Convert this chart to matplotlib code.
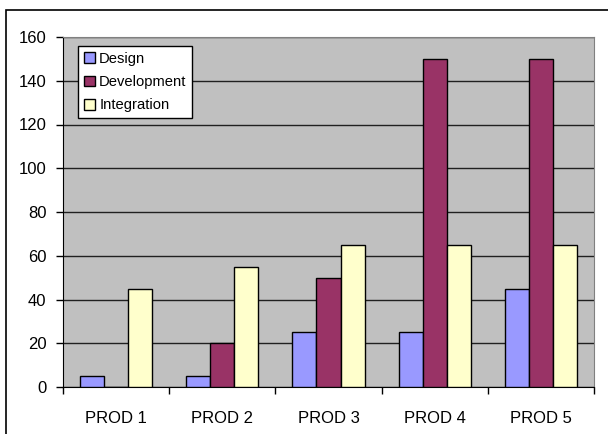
import numpy as np
import matplotlib
matplotlib.use("Agg")
from matplotlib import pyplot as plt
from matplotlib.patches import Rectangle

""" Chart data """
products = ["PROD 1", "PROD 2", "PROD 3", "PROD 4", "PROD 5"]
design = [5, 5, 25, 25, 45]
development = [0, 20, 50, 150, 150]
integration = [45, 55, 65, 65, 65]

series_names = ["Design", "Development", "Integration"]
series_colors = ["#9999FF", "#993366", "#FFFFCC"]

plt.rcParams['font.family'] = ['Liberation Sans', 'DejaVu Sans']

fig = plt.figure(figsize=(6.08, 4.34), dpi=100)
W, H = 608, 434
ax = fig.add_axes([63 / W, 1 - 387 / H, (594 - 63) / W, (387 - 37) / H])

""" outer chart border """
fig.patches.append(Rectangle((6 / W, -0.05), 1.2, 1 - 10 / H + 0.05,
                             transform=fig.transFigure, fill=False,
                             edgecolor="black", linewidth=1.2, clip_on=False))

ax.set_facecolor("#C0C0C0")
for s in ["top", "right"]:
    ax.spines[s].set_color("#808080")
for s in ["left", "bottom"]:
    ax.spines[s].set_color("black")

x = np.arange(len(products))
w = 0.226
for k, (vals, name, col) in enumerate(zip([design, development, integration],
                                          series_names, series_colors)):
    ax.bar(x + (k - 1) * w, vals, width=w, color=col, edgecolor="black",
           linewidth=1.0, label=name, zorder=3)

ax.set_xlim(-0.5, len(products) - 0.5)
ax.set_ylim(0, 160)
ax.set_yticks(np.arange(0, 161, 20))
ax.yaxis.grid(True, color="#202020", linewidth=1, zorder=0)
ax.set_axisbelow(True)

ax.set_xticks(x)
ax.set_xticklabels(products)
ax.set_xticks(np.arange(-0.5, len(products), 1), minor=True)
ax.tick_params(axis="x", which="major", length=0, pad=17, labelsize=12)
ax.tick_params(axis="x", which="minor", length=5, width=1, direction="out")
ax.tick_params(axis="y", length=5, width=1, direction="out", pad=7, labelsize=12)

leg = ax.legend(loc="upper left", bbox_to_anchor=(0.028, 0.974), borderaxespad=0,
                fancybox=False, framealpha=1, edgecolor="black", fontsize=10.6,
                handlelength=0.75, handleheight=0.75, handletextpad=0.3,
                borderpad=0.4, labelspacing=0.62)
leg.get_frame().set_linewidth(1)

fig.savefig("out.png", dpi=100)
